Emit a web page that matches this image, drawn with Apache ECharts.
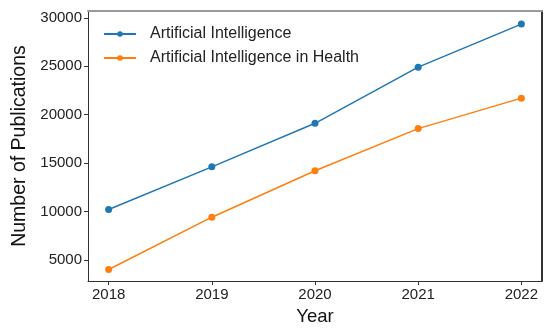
<!DOCTYPE html>
<html><head><meta charset="utf-8">
<script src="https://cdn.jsdelivr.net/npm/echarts@6/dist/echarts.min.js"></script>
<style>html,body{margin:0;padding:0;background:#fff}#c{width:554px;height:331px}</style>
</head><body><div id="c"></div>
<script>
const years = [2018, 2019, 2020, 2021, 2022];
const aiValues = [10200, 14600, 19100, 24900, 29350];
const aiHealthValues = [4000, 9400, 14200, 18550, 21700];
const yTicks = [5000, 10000, 15000, 20000, 25000, 30000];
const seriesNames = ['Artificial Intelligence', 'Artificial Intelligence in Health'];

const font = '"Liberation Sans", Arial, sans-serif';
const chart = echarts.init(document.getElementById('c'));
const mk = (vals) => years.map((y, i) => [y, vals[i]]);
chart.setOption({
  animation: false,
  textStyle: { fontFamily: font },
  grid: { left: 88, right: 12, top: 11, bottom: 49 },
  legend: {
    orient: 'vertical', left: 98, top: 21, itemWidth: 32, itemHeight: 7, itemGap: 8,
    textStyle: { fontFamily: font, fontSize: 16, color: '#222', padding: [0, 0, 0, 9] },
    data: seriesNames
  },
  xAxis: [{
    type: 'value', min: 2017.8, max: 2022.2,
    name: 'Year', nameLocation: 'middle', nameGap: 23,
    nameTextStyle: { fontFamily: font, fontSize: 18.5, color: '#111' },
    axisLine: { show: true, lineStyle: { color: '#333', width: 1 } },
    axisTick: { show: true, length: 4, lineStyle: { color: '#333' }, customValues: years },
    axisLabel: { fontFamily: font, fontSize: 15, color: '#222', margin: 6, customValues: years, formatter: v => String(v) },
    splitLine: { show: false }
  }, {
    type: 'value', position: 'top', min: 2017.8, max: 2022.2,
    axisLine: { show: true, onZero: false, lineStyle: { color: '#999', width: 2 } },
    axisTick: { show: false }, axisLabel: { show: false }, splitLine: { show: false }
  }],
  yAxis: [{
    type: 'value', min: 2800, max: 30700,
    name: 'Number of Publications', nameLocation: 'middle', nameGap: 46,
    nameTextStyle: { fontFamily: font, fontSize: 19.5, color: '#111' },
    axisLine: { show: true, lineStyle: { color: '#333', width: 1 } },
    axisTick: { show: true, length: 4, lineStyle: { color: '#333' }, customValues: yTicks },
    axisLabel: { fontFamily: font, fontSize: 15, color: '#222', margin: 6, customValues: yTicks, formatter: v => String(v) },
    splitLine: { show: false }
  }, {
    type: 'value', position: 'right', min: 2800, max: 30700,
    axisLine: { show: true, onZero: false, lineStyle: { color: '#333', width: 2 } },
    axisTick: { show: false }, axisLabel: { show: false }, splitLine: { show: false }
  }],
  series: [{
    name: seriesNames[0], type: 'line', data: mk(aiValues),
    symbol: 'circle', symbolSize: 7,
    lineStyle: { color: '#1f77b4', width: 1.5 }, itemStyle: { color: '#1f77b4' }
  }, {
    name: seriesNames[1], type: 'line', data: mk(aiHealthValues),
    symbol: 'circle', symbolSize: 7,
    lineStyle: { color: '#ff7f0e', width: 1.5 }, itemStyle: { color: '#ff7f0e' }
  }]
});
</script></body></html>
